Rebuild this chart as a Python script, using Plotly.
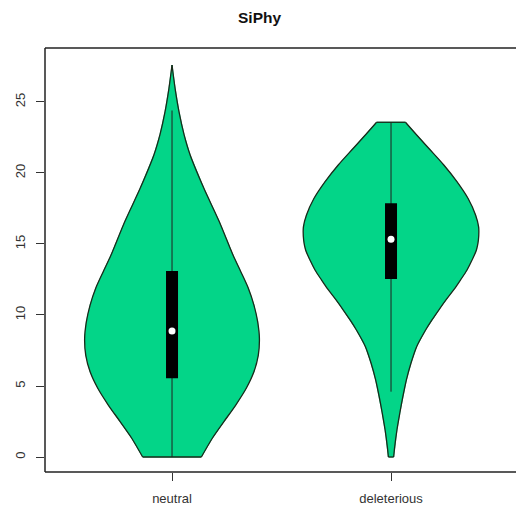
import plotly.graph_objects as go

categories = ["neutral", "deleterious"]
positions = [1, 2]

# density outline (value, half-width in x-units)
neutral_y = [0.0, 1.32, 2.49, 3.66, 4.84, 6.0, 7.18, 8.36, 9.53, 10.7, 11.9, 13.05, 14.2, 16.6, 18.9, 21.3, 22.7, 24.3, 25.96, 27.6]
neutral_hw = [0.134, 0.184, 0.237, 0.291, 0.339, 0.374, 0.394, 0.399, 0.391, 0.374, 0.348, 0.314, 0.279, 0.215, 0.146, 0.082, 0.055, 0.032, 0.014, 0.0]
del_y = [0.0, 0.73, 1.9, 3.08, 4.25, 5.42, 6.6, 7.77, 8.94, 9.65, 10.35, 11.06, 11.76, 12.46, 13.17, 13.87, 14.58, 15.28, 16.2, 17.04, 18.2, 19.39, 20.56, 21.74, 22.9, 23.57]
del_hw = [0.012, 0.017, 0.027, 0.040, 0.054, 0.070, 0.091, 0.117, 0.158, 0.187, 0.218, 0.251, 0.286, 0.317, 0.347, 0.370, 0.390, 0.399, 0.400, 0.386, 0.352, 0.301, 0.241, 0.172, 0.104, 0.066]

profiles = [(neutral_y, neutral_hw), (del_y, del_hw)]

q1 = [5.54, 12.54]
q3 = [13.1, 17.86]
medians = [8.87, 15.33]
whisk_lo = [0.0, 4.6]
whisk_hi = [24.4, 23.55]

fill_color = "#03D588"
edge_color = "#1a2a1a"

fig = go.Figure()
for pos, (ys, hw) in zip(positions, profiles):
    right_x = [pos + h for h in hw]
    left_x = [pos - h for h in hw]
    xs = right_x + left_x[::-1] + [right_x[0]]
    yy = list(ys) + list(ys)[::-1] + [ys[0]]
    # fill body
    fig.add_trace(go.Scatter(x=xs, y=yy, mode="lines", fill="toself", fillcolor=fill_color,
                             line=dict(color=fill_color, width=0.8),
                             hoverinfo="skip", showlegend=False))
    # outline sides (smooth) and flat ends
    for side_x in (right_x, left_x):
        fig.add_trace(go.Scatter(x=side_x, y=ys, mode="lines",
                                 line=dict(color=edge_color, width=1.3, shape="spline", smoothing=0.8),
                                 hoverinfo="skip", showlegend=False))
    for k in (0, -1):
        fig.add_trace(go.Scatter(x=[left_x[k], right_x[k]], y=[ys[k], ys[k]], mode="lines",
                                 line=dict(color=edge_color, width=1.3),
                                 hoverinfo="skip", showlegend=False))

for i, pos in enumerate(positions):
    fig.add_trace(go.Scatter(x=[pos, pos], y=[whisk_lo[i], whisk_hi[i]], mode="lines",
                             line=dict(color="#222", width=1), showlegend=False, hoverinfo="skip"))
    fig.add_trace(go.Scatter(x=[pos, pos], y=[q1[i], q3[i]], mode="lines",
                             line=dict(color="black", width=12), showlegend=False, hoverinfo="skip"))

fig.add_trace(go.Scatter(x=positions, y=medians, mode="markers",
                         marker=dict(color="white", size=7, line=dict(width=0)), showlegend=False))

fig.update_layout(
    width=516, height=512,
    margin=dict(l=45, r=0, t=48, b=40),
    paper_bgcolor="white", plot_bgcolor="white",
    font=dict(family="Liberation Sans, Arial, sans-serif", size=13, color="#333"),
    title=dict(text="<b>SiPhy</b>", x=0.503, xanchor="center", y=0.966, yanchor="middle",
               font=dict(size=15.5, color="#111")),
    xaxis=dict(range=[0.42, 0.42 + 471 / 219], tickvals=positions, ticktext=categories,
               ticks="outside", ticklen=8, tickcolor="#333", showgrid=False, zeroline=False,
               showline=False, ticklabelstandoff=6, tickfont=dict(size=13, color="#333")),
    yaxis=dict(range=[-1.056, 28.80], tickvals=[0, 5, 10, 15, 20, 25], ticks="outside",
               ticklen=8, tickcolor="#333", showgrid=False, zeroline=False, showline=False,
               tickangle=-90, ticklabelstandoff=6, tickfont=dict(size=13, color="#333")),
    shapes=[
        dict(type="line", xref="paper", yref="paper", x0=0, x1=1.01, y0=0, y1=0, line=dict(color="#222", width=1.5)),
        dict(type="line", xref="paper", yref="paper", x0=0, x1=1.01, y0=1, y1=1, line=dict(color="#222", width=1.5)),
        dict(type="line", xref="paper", yref="paper", x0=0, x1=0, y0=0, y1=1, line=dict(color="#222", width=1.5)),
    ],
)

fig.write_html("out.html")
